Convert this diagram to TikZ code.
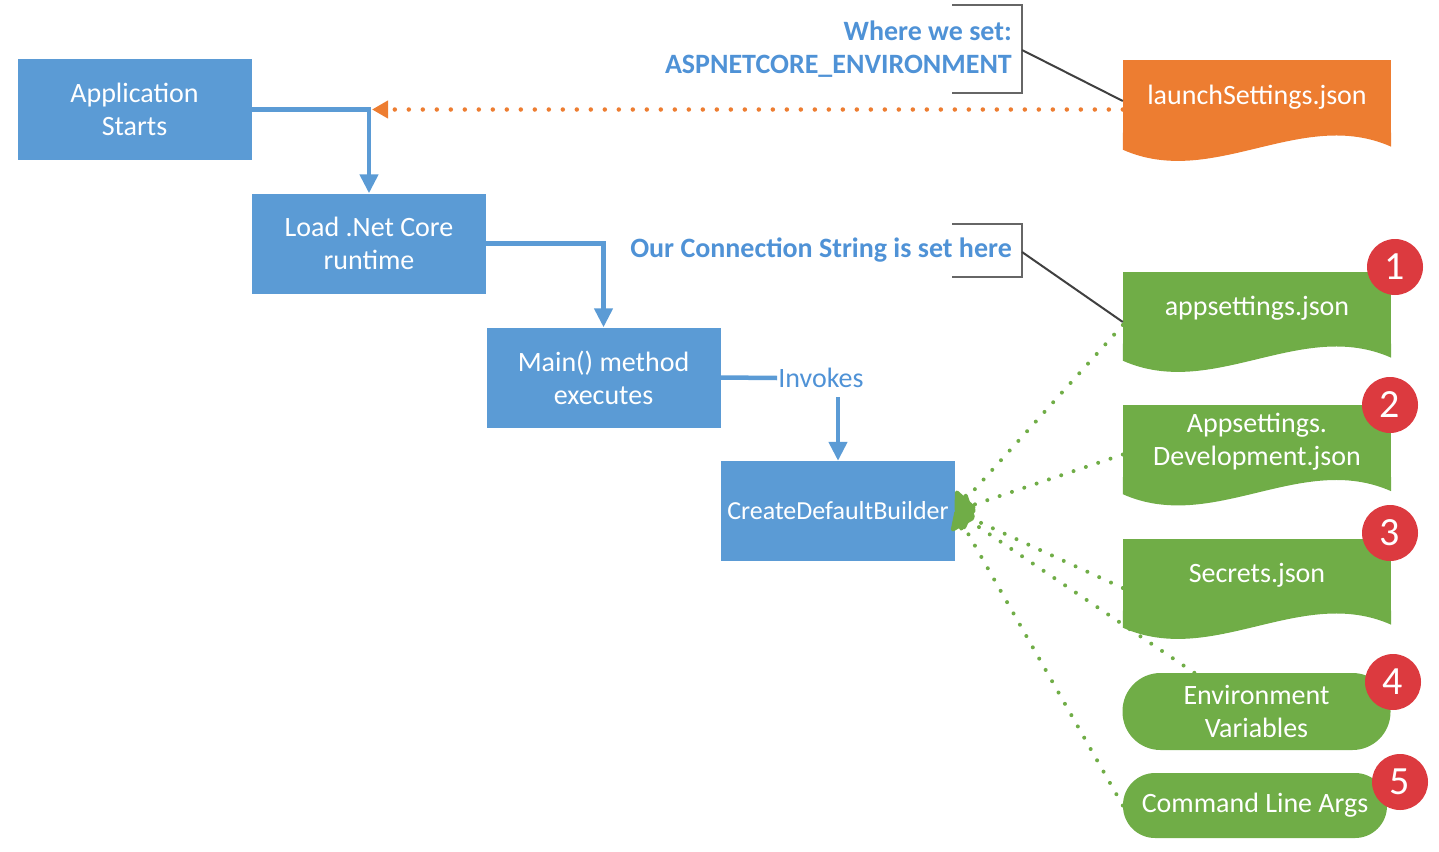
\documentclass[tikz,border=0pt]{standalone}
\usepackage{fontspec}
\setmainfont{Carlito}
\usepackage{xcolor}
\usepackage{tikz}
\usetikzlibrary{positioning, calc, arrows.meta}
\definecolor{boxblue}{HTML}{5B9BD5}
\definecolor{textblue}{HTML}{4F92D6}
\definecolor{docorange}{HTML}{ED7D31}
\definecolor{docgreen}{HTML}{70AD47}
\definecolor{badgered}{HTML}{DC3A3F}
\definecolor{leadgray}{HTML}{404040}
\newcommand{\wavebottom}[2]{%
  \fill[#2] ($(#1.south west)+(0,-1)$) -- ($(#1.south west)+(0,16)$)
    .. controls +(90,40) and +(-90,-40) .. ($(#1.south east)+(0,13)$)
    -- ($(#1.south east)+(0,-1)$) -- cycle;}

\begin{document}
\begin{tikzpicture}[x=1pt, y=-1pt,
    font=\fontsize{28}{33}\selectfont,
    stepbox/.style={fill=boxblue, text=white, minimum width=234pt, minimum height=100pt, inner sep=0pt, align=center},
    docbox/.style={fill=#1, text=white, minimum width=268pt, minimum height=73pt, inner sep=0pt, align=center},
    srcbox/.style={fill=docgreen, text=white, minimum width=268pt, rounded corners=38pt, inner sep=0pt, align=center},
    badge/.style={circle, fill=badgered, text=white, minimum size=56pt, inner sep=0pt, font=\fontsize{40}{40}\selectfont},
    note/.style={text=textblue, font=\bfseries\fontsize{28}{33}\selectfont, align=right, inner sep=0pt},
    flow/.style={boxblue, line width=4.5pt, -{Triangle[width=18pt, length=19pt]}},
    feed/.style={docgreen, line width=4pt, line cap=round, dash pattern=on 0pt off 13pt, -{Triangle[width=30pt, length=18pt, round]}},
    env/.style={docorange, line width=4.5pt, line cap=round, dash pattern=on 0pt off 14pt, -{Triangle[width=17pt, length=16pt]}},
    bracket/.style={draw=gray!80!black, line width=2pt},
    leader/.style={leadgray, line width=2pt}]
    \useasboundingbox (0,0) rectangle (1439,851);

    % Startup pipeline
    \node[stepbox] (app) at (134.5,109.5) {Application\\Starts};
    \node[stepbox] (load) at (369,243.5) {Load .Net Core\\runtime};
    \node[stepbox] (main) at (603.5,377.5) {Main() method\\executes};
    \node[stepbox, font=\fontsize{26}{33}\selectfont] (cdb) at (838,511) {CreateDefaultBuilder};
    \node[text=textblue, inner sep=1pt] (invokes) at (821,378) {Invokes};

    \draw[flow] (app.east) -| (load.north);
    \draw[flow] (load.east) -| (main.north);
    \draw[boxblue, line width=4.5pt] (main.east) -- (invokes.west);
    \draw[flow] ($(invokes.south -| cdb.north)+(0,8)$) -- (cdb.north);

    % Configuration sources
    \node[docbox=docorange] (launch) at (1257,97) {launchSettings.json};
    \wavebottom{launch}{docorange}
    \node[docbox=docgreen] (appset) at (1257,308) {appsettings.json};
    \wavebottom{appset}{docgreen}
    \node[docbox=docgreen] (appdev) at (1257,441.5) {Appsettings.\\Development.json};
    \wavebottom{appdev}{docgreen}
    \node[docbox=docgreen] (secrets) at (1257,575) {Secrets.json};
    \wavebottom{secrets}{docgreen}
    \node[srcbox, minimum height=77pt] (envvar) at (1256.5,711.5) {Environment\\Variables};
    \node[srcbox, minimum width=264pt, minimum height=65pt, rounded corners=32pt] (cla) at (1255,805.5) {Command Line Args};

    \coordinate (turn) at ($(app.east -| load.north)+(3,0)$);
    \draw[env] (launch.west |- app.east) -- (turn);

    \coordinate (in1) at ($(appset.west)+(0,17)$);
    \coordinate (in2) at ($(appdev.west)+(0,13)$);
    \coordinate (in3) at ($(secrets.west)+(0,13)$);
    \coordinate (in4) at ($(envvar.north west)+(72,0)$);
    \coordinate (in5) at (cla.west);
    \foreach \p in {in1,in2,in3,in4,in5}
      \draw[feed] (\p) -- (cdb.east);

    % Notes
    \node[note, anchor=east] (envnote) at (1012,49.5) {Where we set:\\ASPNETCORE\_ENVIRONMENT};
    \draw[bracket] (952,5) -- (1022,5) -- (1022,93) -- (952,93);
    \coordinate (tag1) at (1022,50);
    \draw[leader] (tag1) -- ($(launch.west)+(0,4)$);

    \node[note, anchor=east] (connnote) at (1012,250) {Our Connection String is set here};
    \draw[bracket] (952,224) -- (1022,224) -- (1022,277) -- (952,277);
    \coordinate (tag2) at (1022,252);
    \draw[leader] (tag2) -- ($(appset.west)+(0,14)$);

    % Priority badges
    \node[badge] (b1) at (1395,267) {1};
    \node[badge] (b2) at (1390,405) {2};
    \node[badge] (b3) at (1390,533) {3};
    \node[badge] (b4) at (1393,682) {4};
    \node[badge] (b5) at (1400,782) {5};
\end{tikzpicture}
\end{document}
